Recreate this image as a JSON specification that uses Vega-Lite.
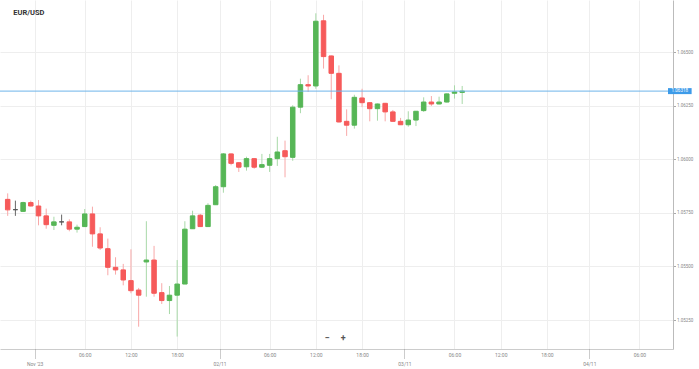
{
  "$schema": "https://vega.github.io/schema/vega-lite/v6.json",
  "width": 673,
  "height": 349,
  "autosize": {"type": "none"},
  "padding": {"left": 0, "top": 0, "right": 26, "bottom": 20},
  "background": "white",
  "config": {"view": {"stroke": null}, "font": "Roboto"},
  "datasets": {
    "candles": [
      {"t": "2023-10-31T20:00:00Z", "o": 1.05813, "h": 1.05841, "l": 1.05736, "c": 1.05764},
      {"t": "2023-10-31T21:00:00Z", "o": 1.05765, "h": 1.05807, "l": 1.05736, "c": 1.05765},
      {"t": "2023-10-31T22:00:00Z", "o": 1.05757, "h": 1.05802, "l": 1.05754, "c": 1.05798},
      {"t": "2023-10-31T23:00:00Z", "o": 1.05798, "h": 1.05807, "l": 1.05780, "c": 1.05782},
      {"t": "2023-11-01T00:00:00Z", "o": 1.05782, "h": 1.05810, "l": 1.05692, "c": 1.05736},
      {"t": "2023-11-01T01:00:00Z", "o": 1.05736, "h": 1.05770, "l": 1.05676, "c": 1.05695},
      {"t": "2023-11-01T02:00:00Z", "o": 1.05692, "h": 1.05732, "l": 1.05670, "c": 1.05708},
      {"t": "2023-11-01T03:00:00Z", "o": 1.05708, "h": 1.05742, "l": 1.05692, "c": 1.05708},
      {"t": "2023-11-01T04:00:00Z", "o": 1.05708, "h": 1.05720, "l": 1.05664, "c": 1.05674},
      {"t": "2023-11-01T05:00:00Z", "o": 1.05674, "h": 1.05695, "l": 1.05658, "c": 1.05683},
      {"t": "2023-11-01T06:00:00Z", "o": 1.05686, "h": 1.05768, "l": 1.05684, "c": 1.05745},
      {"t": "2023-11-01T07:00:00Z", "o": 1.05745, "h": 1.05779, "l": 1.05592, "c": 1.05652},
      {"t": "2023-11-01T08:00:00Z", "o": 1.05652, "h": 1.05683, "l": 1.05577, "c": 1.05586},
      {"t": "2023-11-01T09:00:00Z", "o": 1.05583, "h": 1.05630, "l": 1.05459, "c": 1.05496},
      {"t": "2023-11-01T10:00:00Z", "o": 1.05496, "h": 1.05543, "l": 1.05462, "c": 1.05484},
      {"t": "2023-11-01T11:00:00Z", "o": 1.05484, "h": 1.05512, "l": 1.05412, "c": 1.05437},
      {"t": "2023-11-01T12:00:00Z", "o": 1.05434, "h": 1.05580, "l": 1.05375, "c": 1.05387},
      {"t": "2023-11-01T13:00:00Z", "o": 1.05390, "h": 1.05400, "l": 1.05219, "c": 1.05366},
      {"t": "2023-11-01T14:00:00Z", "o": 1.05521, "h": 1.05711, "l": 1.05359, "c": 1.05530},
      {"t": "2023-11-01T15:00:00Z", "o": 1.05530, "h": 1.05596, "l": 1.05359, "c": 1.05375},
      {"t": "2023-11-01T16:00:00Z", "o": 1.05378, "h": 1.05422, "l": 1.05325, "c": 1.05341},
      {"t": "2023-11-01T17:00:00Z", "o": 1.05341, "h": 1.05409, "l": 1.05278, "c": 1.05366},
      {"t": "2023-11-01T18:00:00Z", "o": 1.05366, "h": 1.05530, "l": 1.05173, "c": 1.05418},
      {"t": "2023-11-01T19:00:00Z", "o": 1.05418, "h": 1.05711, "l": 1.05418, "c": 1.05674},
      {"t": "2023-11-01T20:00:00Z", "o": 1.05676, "h": 1.05760, "l": 1.05675, "c": 1.05736},
      {"t": "2023-11-01T21:00:00Z", "o": 1.05739, "h": 1.05745, "l": 1.05684, "c": 1.05686},
      {"t": "2023-11-01T22:00:00Z", "o": 1.05686, "h": 1.05795, "l": 1.05684, "c": 1.05785},
      {"t": "2023-11-01T23:00:00Z", "o": 1.05788, "h": 1.05880, "l": 1.05787, "c": 1.05872},
      {"t": "2023-11-02T00:00:00Z", "o": 1.05872, "h": 1.06029, "l": 1.05844, "c": 1.06025},
      {"t": "2023-11-02T01:00:00Z", "o": 1.06025, "h": 1.06027, "l": 1.05972, "c": 1.05981},
      {"t": "2023-11-02T02:00:00Z", "o": 1.05984, "h": 1.05987, "l": 1.05941, "c": 1.05963},
      {"t": "2023-11-02T03:00:00Z", "o": 1.05965, "h": 1.06012, "l": 1.05947, "c": 1.06003},
      {"t": "2023-11-02T04:00:00Z", "o": 1.06003, "h": 1.06006, "l": 1.05956, "c": 1.05963},
      {"t": "2023-11-02T05:00:00Z", "o": 1.05963, "h": 1.06025, "l": 1.05959, "c": 1.05975},
      {"t": "2023-11-02T06:00:00Z", "o": 1.05972, "h": 1.06025, "l": 1.05941, "c": 1.06003},
      {"t": "2023-11-02T07:00:00Z", "o": 1.06003, "h": 1.06105, "l": 1.05969, "c": 1.06034},
      {"t": "2023-11-02T08:00:00Z", "o": 1.06040, "h": 1.06087, "l": 1.05916, "c": 1.06012},
      {"t": "2023-11-02T09:00:00Z", "o": 1.06009, "h": 1.06252, "l": 1.05993, "c": 1.06243},
      {"t": "2023-11-02T10:00:00Z", "o": 1.06243, "h": 1.06376, "l": 1.06215, "c": 1.06348},
      {"t": "2023-11-02T11:00:00Z", "o": 1.06348, "h": 1.06392, "l": 1.06314, "c": 1.06342},
      {"t": "2023-11-02T12:00:00Z", "o": 1.06342, "h": 1.06681, "l": 1.06329, "c": 1.06644},
      {"t": "2023-11-02T13:00:00Z", "o": 1.06646, "h": 1.06674, "l": 1.06423, "c": 1.06479},
      {"t": "2023-11-02T14:00:00Z", "o": 1.06482, "h": 1.06484, "l": 1.06280, "c": 1.06401},
      {"t": "2023-11-02T15:00:00Z", "o": 1.06401, "h": 1.06438, "l": 1.06172, "c": 1.06174},
      {"t": "2023-11-02T16:00:00Z", "o": 1.06177, "h": 1.06233, "l": 1.06109, "c": 1.06159},
      {"t": "2023-11-02T17:00:00Z", "o": 1.06159, "h": 1.06301, "l": 1.06143, "c": 1.06289},
      {"t": "2023-11-02T18:00:00Z", "o": 1.06286, "h": 1.06329, "l": 1.06243, "c": 1.06264},
      {"t": "2023-11-02T19:00:00Z", "o": 1.06264, "h": 1.06266, "l": 1.06177, "c": 1.06236},
      {"t": "2023-11-02T20:00:00Z", "o": 1.06236, "h": 1.06260, "l": 1.06180, "c": 1.06258},
      {"t": "2023-11-02T21:00:00Z", "o": 1.06261, "h": 1.06263, "l": 1.06177, "c": 1.06221},
      {"t": "2023-11-02T22:00:00Z", "o": 1.06221, "h": 1.06230, "l": 1.06175, "c": 1.06177},
      {"t": "2023-11-02T23:00:00Z", "o": 1.06177, "h": 1.06193, "l": 1.06160, "c": 1.06161},
      {"t": "2023-11-03T00:00:00Z", "o": 1.06161, "h": 1.06224, "l": 1.06152, "c": 1.06183},
      {"t": "2023-11-03T01:00:00Z", "o": 1.06183, "h": 1.06225, "l": 1.06155, "c": 1.06224},
      {"t": "2023-11-03T02:00:00Z", "o": 1.06227, "h": 1.06289, "l": 1.06221, "c": 1.06267},
      {"t": "2023-11-03T03:00:00Z", "o": 1.06267, "h": 1.06295, "l": 1.06249, "c": 1.06258},
      {"t": "2023-11-03T04:00:00Z", "o": 1.06258, "h": 1.06292, "l": 1.06256, "c": 1.06267},
      {"t": "2023-11-03T05:00:00Z", "o": 1.06267, "h": 1.06307, "l": 1.06265, "c": 1.06305},
      {"t": "2023-11-03T06:00:00Z", "o": 1.06308, "h": 1.06345, "l": 1.06283, "c": 1.06314},
      {"t": "2023-11-03T07:00:00Z", "o": 1.06312, "h": 1.06342, "l": 1.06258, "c": 1.06318}
    ],
    "one": [{}]
  },
  "resolve": {"axis": {"x": "independent"}},
  "layer": [
    {
      "data": {"name": "candles"},
      "mark": {"type": "rule", "strokeWidth": 1},
      "encoding": {
        "x": {
          "field": "t", "type": "temporal",
          "scale": {"type": "utc", "domain": [
            {"year": 2023, "month": 10, "date": 31, "hours": 19, "minutes": 39, "utc": true},
            {"year": 2023, "month": 11, "date": 4, "hours": 9, "minutes": 43, "utc": true}
          ]},
          "axis": {
            "title": null,
            "orient": "bottom",
            "values": [
              {"year": 2023, "month": 11, "date": 1, "hours": 6, "utc": true},
              {"year": 2023, "month": 11, "date": 1, "hours": 12, "utc": true},
              {"year": 2023, "month": 11, "date": 1, "hours": 18, "utc": true},
              {"year": 2023, "month": 11, "date": 2, "hours": 6, "utc": true},
              {"year": 2023, "month": 11, "date": 2, "hours": 12, "utc": true},
              {"year": 2023, "month": 11, "date": 2, "hours": 18, "utc": true},
              {"year": 2023, "month": 11, "date": 3, "hours": 6, "utc": true},
              {"year": 2023, "month": 11, "date": 3, "hours": 12, "utc": true},
              {"year": 2023, "month": 11, "date": 3, "hours": 18, "utc": true},
              {"year": 2023, "month": 11, "date": 4, "hours": 6, "utc": true}
            ],
            "labelExpr": "utcFormat(datum.value, '%H:%M')",
            "grid": true, "gridColor": "#eeeeee", "gridWidth": 1,
            "ticks": false,
            "domain": true, "domainColor": "#cccccc",
            "labelFontSize": 5, "labelColor": "#888888", "labelPadding": 3,
            "labelFont": "Roboto"
          }
        },
        "y": {
          "field": "l", "type": "quantitative",
          "scale": {"domain": [1.05115, 1.06743], "nice": false, "zero": false},
          "axis": {
            "title": null, "orient": "right",
            "values": [1.0525, 1.055, 1.0575, 1.06, 1.0625, 1.065],
            "format": ".5f",
            "grid": true, "gridColor": "#eeeeee",
            "tickSize": 2.5, "tickColor": "#aaaaaa",
            "domain": true, "domainColor": "#bbbbbb",
            "labelFontSize": 4.5, "labelColor": "#888888", "labelPadding": 1,
            "labelFont": "Roboto"
          }
        },
        "y2": {"field": "h"},
        "stroke": {
          "condition": [
            {"test": "datum.c > datum.o", "value": "#a8d9a8"},
            {"test": "datum.c < datum.o", "value": "#f8a8a8"}
          ],
          "value": "#666666"
        }
      }
    },
    {
      "data": {"name": "candles"},
      "mark": {"type": "bar", "width": 4.5, "strokeWidth": 1},
      "encoding": {
        "x": {
          "field": "t", "type": "temporal",
          "axis": {
            "title": null,
            "orient": "bottom",
            "values": [
              {"year": 2023, "month": 10, "date": 31, "hours": 23, "minutes": 30, "utc": true},
              {"year": 2023, "month": 11, "date": 1, "hours": 23, "minutes": 30, "utc": true},
              {"year": 2023, "month": 11, "date": 2, "hours": 23, "minutes": 30, "utc": true},
              {"year": 2023, "month": 11, "date": 3, "hours": 23, "minutes": 30, "utc": true}
            ],
            "labelExpr": "utcdate(datum.value) == 31 ? \"Nov '23\" : utcFormat(datum.value + 1800000, '%d/%m')",
            "grid": true, "gridColor": "#eeeeee",
            "ticks": true, "tickSize": 10, "tickDash": [1, 1], "tickColor": "#999999",
            "domain": false,
            "labelFontSize": 5, "labelColor": "#888888", "labelPadding": 2,
            "labelFont": "Roboto"
          }
        },
        "y": {"field": "o", "type": "quantitative"},
        "y2": {"field": "c"},
        "fill": {
          "condition": [
            {"test": "datum.c > datum.o", "value": "#56b656"},
            {"test": "datum.c < datum.o", "value": "#f65a5a"}
          ],
          "value": "#555555"
        },
        "stroke": {
          "condition": [
            {"test": "datum.c > datum.o", "value": "#56b656"},
            {"test": "datum.c < datum.o", "value": "#f65a5a"}
          ],
          "value": "#555555"
        }
      }
    },
    {
      "data": {"name": "one"},
      "mark": {"type": "rule", "color": "#6db4ea", "strokeWidth": 1},
      "encoding": {"y": {"datum": 1.06318}}
    },
    {
      "data": {"name": "one"},
      "mark": {"type": "rect", "color": "#3d9be9", "clip": false},
      "encoding": {
        "x": {"datum": {"year": 2023, "month": 11, "date": 4, "hours": 9, "minutes": 43, "utc": true}, "type": "temporal", "axis": null},
        "x2": {"datum": {"year": 2023, "month": 11, "date": 4, "hours": 12, "minutes": 47, "utc": true}},
        "y": {"datum": 1.06332},
        "y2": {"datum": 1.06304}
      }
    },
    {
      "data": {"name": "one"},
      "mark": {"type": "text", "text": "1.06318", "color": "white", "fontSize": 4.5, "align": "center", "baseline": "middle", "font": "Roboto"},
      "encoding": {
        "x": {"datum": {"year": 2023, "month": 11, "date": 4, "hours": 11, "minutes": 15, "utc": true}, "type": "temporal", "axis": null},
        "y": {"datum": 1.06318}
      }
    },
    {
      "data": {"name": "one"},
      "mark": {"type": "text", "text": "EUR/USD", "color": "#333333", "fontSize": 7.5, "fontWeight": "bold", "align": "left", "baseline": "alphabetic", "font": "Roboto"},
      "encoding": {
        "x": {"datum": {"year": 2023, "month": 10, "date": 31, "hours": 20, "minutes": 43, "utc": true}, "type": "temporal", "axis": null},
        "y": {"datum": 1.06674}
      }
    },
    {
      "data": {"name": "one"},
      "mark": {"type": "text", "text": "−\u00a0\u00a0\u00a0\u00a0\u00a0+", "color": "#555555", "fontSize": 9, "fontWeight": "bold", "align": "center", "baseline": "middle", "font": "Roboto"},
      "encoding": {
        "x": {"datum": {"year": 2023, "month": 11, "date": 2, "hours": 14, "minutes": 30, "utc": true}, "type": "temporal", "axis": null},
        "y": {"datum": 1.05167}
      }
    }
  ]
}
